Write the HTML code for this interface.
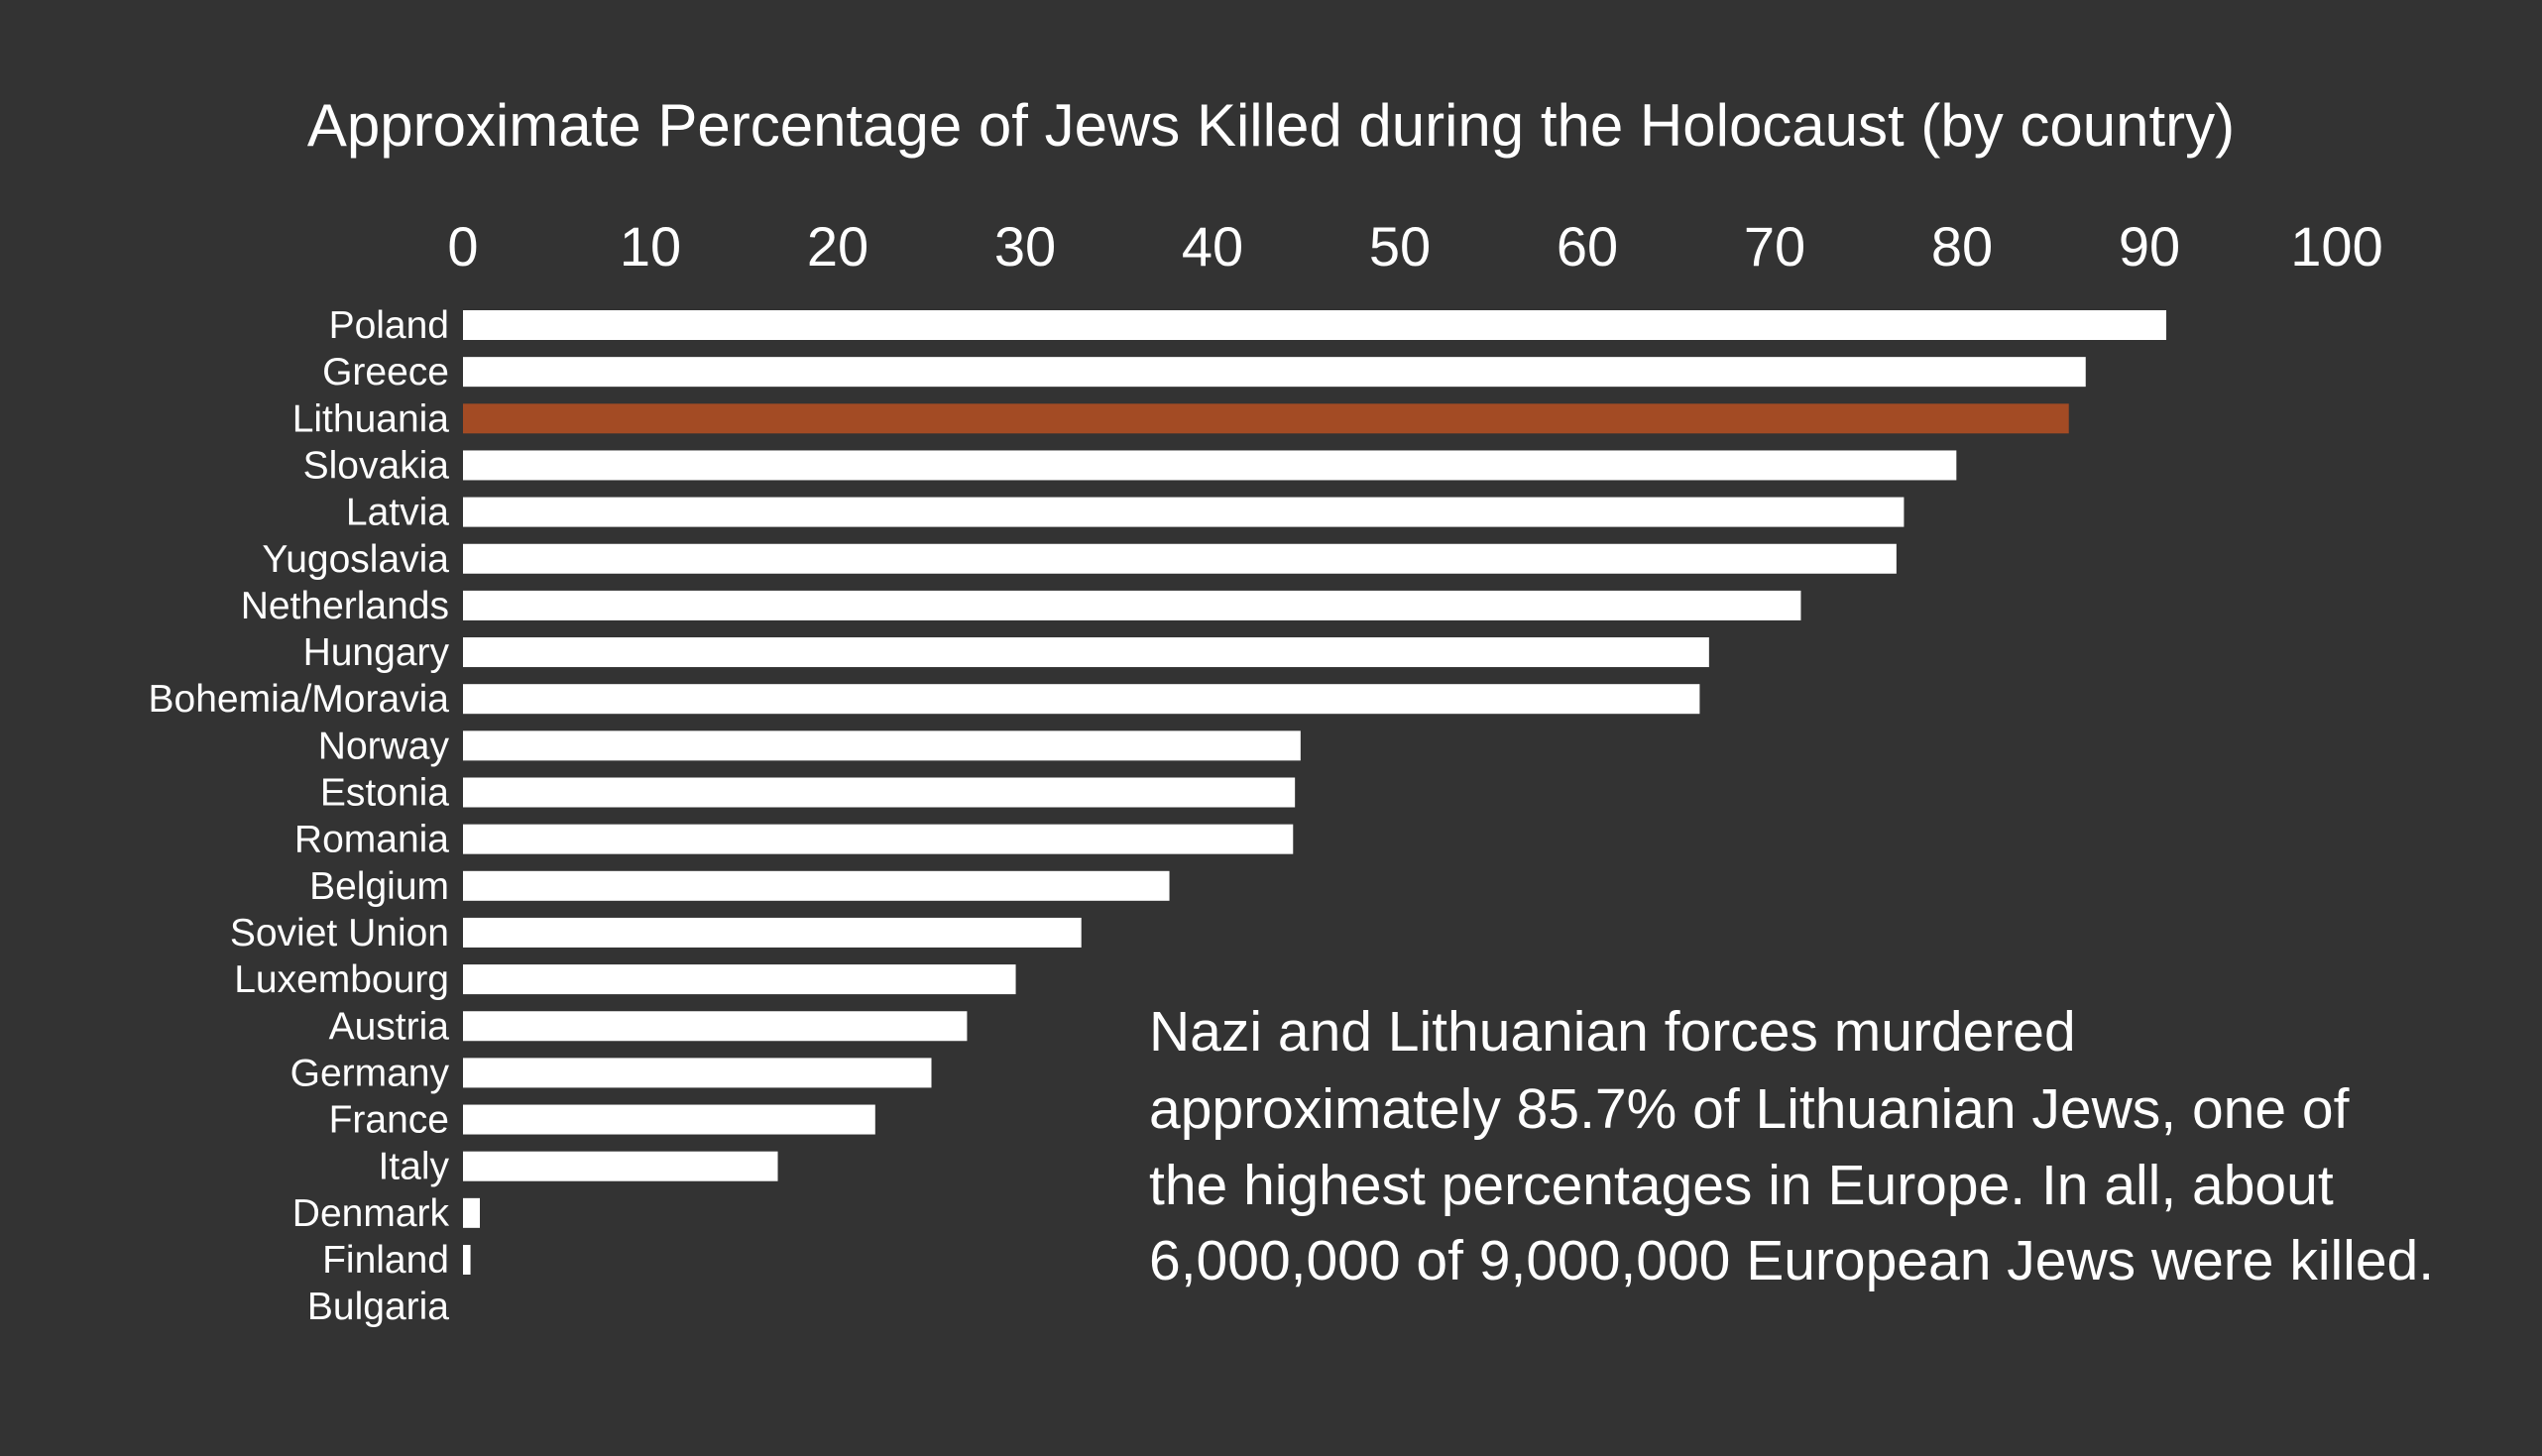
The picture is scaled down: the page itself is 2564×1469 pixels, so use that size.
<!DOCTYPE html>
<html><head><meta charset="utf-8"><style>
html,body{margin:0;padding:0;background:#333333;}
svg{display:block;font-family:"Liberation Sans",sans-serif;}
</style></head><body>
<svg id="chart" width="2564" height="1469" viewBox="0 0 2564 1469">
<rect width="2564" height="1469" fill="#333333"/>
<text x="1282" y="147" text-anchor="middle" fill="#fff" font-size="60">Approximate Percentage of Jews Killed during the Holocaust (by country)</text>
<g id="ticks"></g>
<g id="bars"></g>
<g id="labels"></g>
<text fill="#fff" font-size="57">
<tspan x="1159" y="1060">Nazi and Lithuanian forces murdered</tspan>
<tspan x="1159" y="1138">approximately 85.7% of Lithuanian Jews, one of</tspan>
<tspan x="1159" y="1215">the highest percentages in Europe. In all, about</tspan>
<tspan x="1159" y="1291">6,000,000 of 9,000,000 European Jews were killed.</tspan>
</text>
</svg>
<script>
const categories=["Poland","Greece","Lithuania","Slovakia","Latvia","Yugoslavia","Netherlands","Hungary","Bohemia/Moravia","Norway","Estonia","Romania","Belgium","Soviet Union","Luxembourg","Austria","Germany","France","Italy","Denmark","Finland","Bulgaria"];
const values=[90.9,86.6,85.7,79.7,76.9,76.5,71.4,66.5,66,44.7,44.4,44.3,37.7,33,29.5,26.9,25,22,16.8,0.9,0.4,0];
const tickLabels=[0,10,20,30,40,50,60,70,80,90,100];
const highlight="Lithuania";
const NS="http://www.w3.org/2000/svg";
const x0=467,x1=2357,y0=328,rowH=47.15,barH=30;
function xs(v){return x0+(x1-x0)*v/100;}
function ys(i){return y0+i*rowH;}
const tg=document.getElementById('ticks'),bg=document.getElementById('bars'),lg=document.getElementById('labels');
tickLabels.forEach(t=>{
  const e=document.createElementNS(NS,'text');
  
  
  e.setAttribute('x',xs(t));e.setAttribute('y',268);e.setAttribute('text-anchor','middle');
  e.setAttribute('fill','#fff');e.setAttribute('font-size','56');e.textContent=t;tg.appendChild(e);
});
categories.forEach((c,i)=>{
  const r=document.createElementNS(NS,'rect');
  
  
  r.setAttribute('x',x0);r.setAttribute('y',ys(i)-barH/2);
  r.setAttribute('width',Math.max(0,xs(values[i])-x0));r.setAttribute('height',barH);
  r.setAttribute('fill',c===highlight?'#a34b24':'#ffffff');bg.appendChild(r);
  const t=document.createElementNS(NS,'text');
  
  
  t.setAttribute('x',453);t.setAttribute('y',ys(i)+13);t.setAttribute('text-anchor','end');
  t.setAttribute('fill','#fff');t.setAttribute('font-size','39');t.textContent=c;lg.appendChild(t);
});
</script>
</body></html>
